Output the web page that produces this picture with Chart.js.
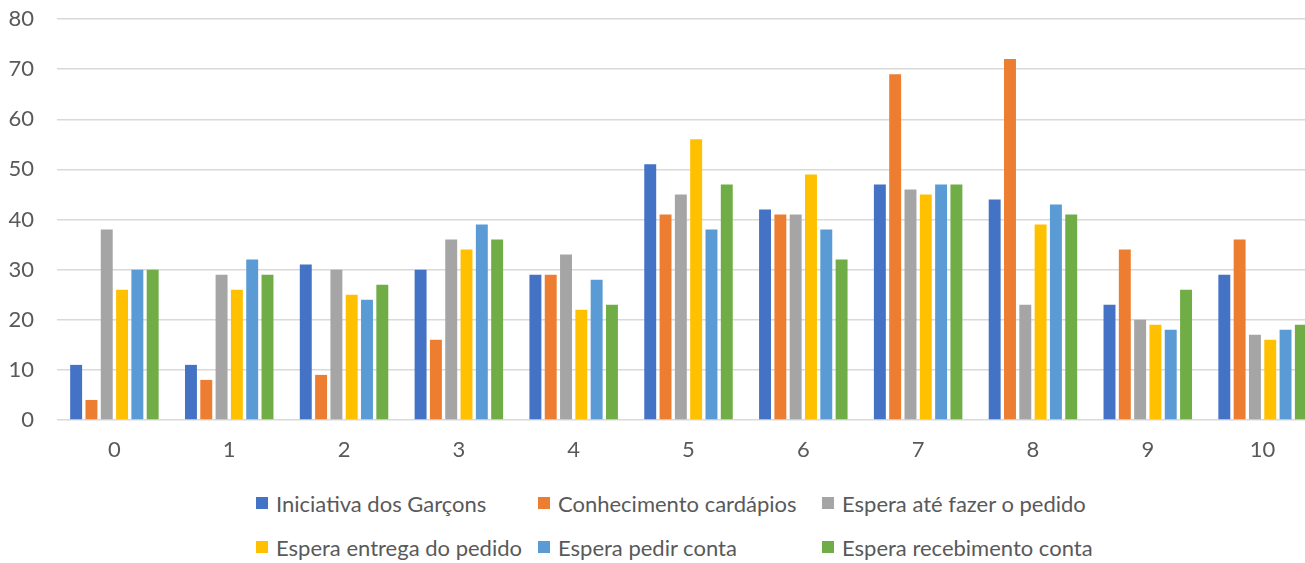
<!DOCTYPE html>
<html>
<head>
<meta charset="utf-8">
<script src="https://cdn.jsdelivr.net/npm/chart.js@4/dist/chart.umd.min.js"></script>
<style>
  html, body { margin: 0; padding: 0; background: #fff; overflow: hidden; width: 1305px; height: 563px; }
  #wrap { position: relative; width: 1320px; height: 470px; }
  #legend {
    position: absolute; left: 256px; top: 490px;
    display: grid; grid-template-columns: 282px 284px auto; row-gap: 18px;
    font-family: Lato, "Open Sans", sans-serif; font-size: 22px; color: #595959;
  }
  #legend .item { display: flex; align-items: center; height: 26px; white-space: nowrap; }
  #legend .box { width: 12px; height: 12px; margin-right: 8px; flex: none; }
</style>
</head>
<body>
<div id="wrap"><canvas id="chart"></canvas></div>
<div id="legend"></div>
<script>
const categories = ['0', '1', '2', '3', '4', '5', '6', '7', '8', '9', '10'];

const seriesNames = [
  'Iniciativa dos Garçons',
  'Conhecimento cardápios',
  'Espera até fazer o pedido',
  'Espera entrega do pedido',
  'Espera pedir conta',
  'Espera recebimento conta',
];

const iniciativa = [11, 11, 31, 30, 29, 51, 42, 47, 44, 23, 29];
const conhecimento = [4, 8, 9, 16, 29, 41, 41, 69, 72, 34, 36];
const esperaPedido = [38, 29, 30, 36, 33, 45, 41, 46, 23, 20, 17];
const esperaEntrega = [26, 26, 25, 34, 22, 56, 49, 45, 39, 19, 16];
const esperaConta = [30, 32, 24, 39, 28, 38, 38, 47, 43, 18, 18];
const esperaRecebimento = [30, 29, 27, 36, 23, 47, 32, 47, 41, 26, 19];

const yTicks = [0, 10, 20, 30, 40, 50, 60, 70, 80];

const colors = ['#4472C4', '#ED7D31', '#A5A5A5', '#FFC000', '#5B9BD5', '#70AD47'];
const allSeries = [iniciativa, conhecimento, esperaPedido, esperaEntrega, esperaConta, esperaRecebimento];

const font = { family: 'Lato, "Open Sans", sans-serif', size: 22 };

const datasets = allSeries.map((data, i) => ({
  label: seriesNames[i],
  data,
  backgroundColor: colors[i],
  borderWidth: 0,
  barPercentage: 0.78,
  categoryPercentage: 0.8,
}));

new Chart(document.getElementById('chart').getContext('2d'), {
  type: 'bar',
  data: { labels: categories, datasets },
  options: {
    responsive: true,
    maintainAspectRatio: false,
    animation: false,
    layout: { padding: { top: 19, right: 0, left: 0, bottom: 0 } },
    plugins: { legend: { display: false }, tooltip: { enabled: false } },
    scales: {
      x: {
        grid: { display: false, drawTicks: false },
        border: { display: false },
        ticks: { color: '#595959', font, padding: 17 },
        afterFit: (scale) => { scale.height = 50; },
      },
      y: {
        min: 0,
        max: 80,
        afterBuildTicks: (scale) => { scale.ticks = yTicks.map((v) => ({ value: v })); },
        grid: { color: '#D9D9D9', lineWidth: 1.5, drawTicks: false },
        border: { display: false },
        ticks: { color: '#595959', font, padding: 23 },
        afterFit: (scale) => {
          scale.width = 57;
          scale.paddingTop = 0;
          scale.paddingBottom = 0;
        },
      },
    },
  },
});

const legendEl = document.getElementById('legend');
seriesNames.forEach((name, i) => {
  const item = document.createElement('div');
  item.className = 'item';
  const box = document.createElement('span');
  box.className = 'box';
  box.style.background = colors[i];
  const text = document.createElement('span');
  text.textContent = name;
  item.appendChild(box);
  item.appendChild(text);
  legendEl.appendChild(item);
});
</script>
</body>
</html>
